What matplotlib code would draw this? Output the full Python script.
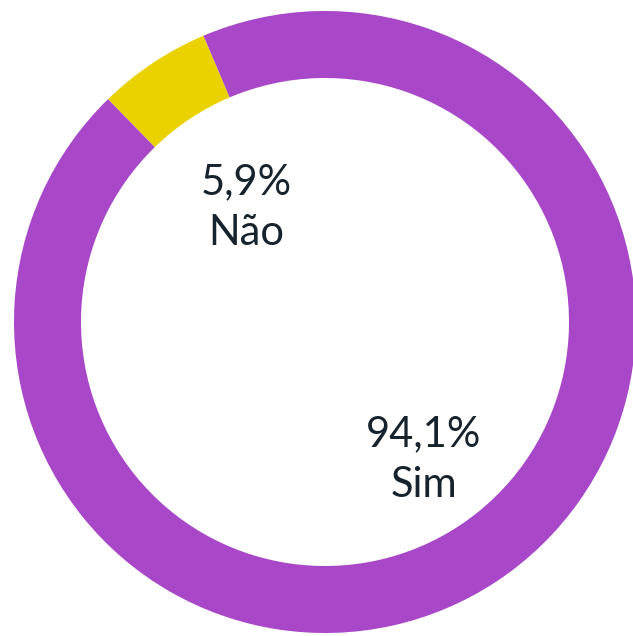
import matplotlib
matplotlib.use("Agg")
import matplotlib.pyplot as plt

labels = ["Não", "Sim"]
values = [5.9, 94.1]
pct_labels = ["5,9%", "94,1%"]
colors = ["#EAD200", "#A847C8"]

H = 636
# label anchor positions in pixel coords (x, y from top)
label_pos = [(246, 208), (424, 460)]

fig = plt.figure(figsize=(6.33, 6.36), dpi=100)
ax = fig.add_axes([0, 0, 1, 1])

wedges, _ = ax.pie(values, colors=colors, startangle=113, counterclock=True,
                   center=(325, H - 322), radius=311, frame=True,
                   wedgeprops=dict(width=67, linewidth=0))

ax.set_xlim(0, 633)
ax.set_ylim(0, H)
ax.set_aspect("equal")
ax.axis("off")

for (x, y), pct, lab in zip(label_pos, pct_labels, labels):
    ax.text(x, H - y + 26, pct, ha="center", va="center", fontsize=30,
            family="Lato", color="#17232c")
    ax.text(x, H - y - 25, lab, ha="center", va="center", fontsize=30,
            family="Lato", color="#17232c")

fig.savefig("out.png", dpi=100)
